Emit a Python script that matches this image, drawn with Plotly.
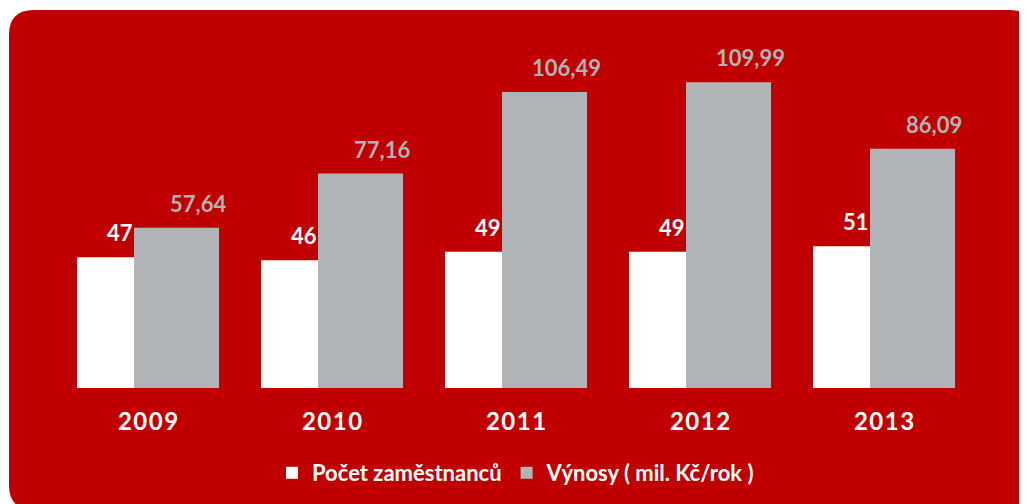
import plotly.graph_objects as go

years = ["2009", "2010", "2011", "2012", "2013"]
year_ticks = ["2\u200a0\u200a0\u200a9", "2\u200a0\u200a1\u200a0", "2\u200a0\u200a1\u200a1",
              "2\u200a0\u200a1\u200a2", "2\u200a0\u200a1\u200a3"]
employees = [47, 46, 49, 49, 51]
revenue = [57.64, 77.16, 106.49, 109.99, 86.09]
revenue_labels = ["57,64", "77,16", "106,49", "109,99", "86,09"]
series_names = ["Počet zaměstnanců", "Výnosy ( mil. Kč/rok )"]

RED = "#C00000"
GREY = "#B1B4B6"
FONT = "Lato"

W, H = 1027, 504
ML, MR, MT, MB = 48, 59, 22, 124
PW, PH = W - ML - MR, H - MT - MB
YMAX = 128.8

def xp(px):
    return (px - ML) / PW

def yp(py):
    return (H - MB - py) / PH

fig = go.Figure()
fig.add_trace(go.Bar(
    x=years, y=employees, name=series_names[0],
    marker=dict(color="white", line=dict(width=0)),
    width=0.462, offset=-0.386,
))
fig.add_trace(go.Bar(
    x=years, y=revenue, name=series_names[1],
    marker=dict(color=GREY, line=dict(width=0)),
    width=0.462, offset=-0.076,
))

annotations = []
for i, v in enumerate(employees):
    annotations.append(dict(xref="x", yref="y", x=i, y=v, text="<b>%d</b>" % v, showarrow=False,
                            xanchor="center", yanchor="bottom", xshift=-28, yshift=9,
                            font=dict(family=FONT, size=22, color="white")))
for i, (v, t) in enumerate(zip(revenue, revenue_labels)):
    annotations.append(dict(xref="x", yref="y", x=i, y=v, text="<b>%s</b>" % t, showarrow=False,
                            xanchor="center", yanchor="bottom", xshift=50, yshift=9,
                            font=dict(family=FONT, size=22, color=GREY)))

# rounded red background panel (figure pixel coordinates)
L, T, R, B, r = 1, 2, 1026, 502, 25
path = (
    f"M {xp(L + r)} {yp(T)} L {xp(R - r)} {yp(T)} Q {xp(R)} {yp(T)} {xp(R)} {yp(T + r)} "
    f"L {xp(R)} {yp(B - r)} Q {xp(R)} {yp(B)} {xp(R - r)} {yp(B)} "
    f"L {xp(L + r)} {yp(B)} Q {xp(L)} {yp(B)} {xp(L)} {yp(B - r)} "
    f"L {xp(L)} {yp(T + r)} Q {xp(L)} {yp(T)} {xp(L + r)} {yp(T)} Z"
)

fig.update_layout(
    width=W, height=H,
    margin=dict(l=ML, r=MR, t=MT, b=MB, pad=0),
    paper_bgcolor="white", plot_bgcolor="rgba(0,0,0,0)",
    barmode="overlay",
    showlegend=True,
    legend=dict(orientation="h", x=0.5, xanchor="center", y=yp(465), yanchor="middle",
                font=dict(family=FONT, size=22, color="white", weight="bold"),
                bgcolor="rgba(0,0,0,0)", traceorder="normal"),
    shapes=[dict(type="path", path=path, xref="paper", yref="paper",
                 fillcolor=RED, line=dict(width=0), layer="below")],
    annotations=annotations,
    xaxis=dict(type="category", range=[-0.5, 4.5], showgrid=False, zeroline=False,
               showline=False, ticks="", ticklabelstandoff=17,
               tickvals=years, ticktext=year_ticks,
               tickfont=dict(family=FONT, size=24, color="white", weight="bold")),
    yaxis=dict(range=[0, YMAX], visible=False, showgrid=False, zeroline=False),
)

fig.write_html("out.html")
